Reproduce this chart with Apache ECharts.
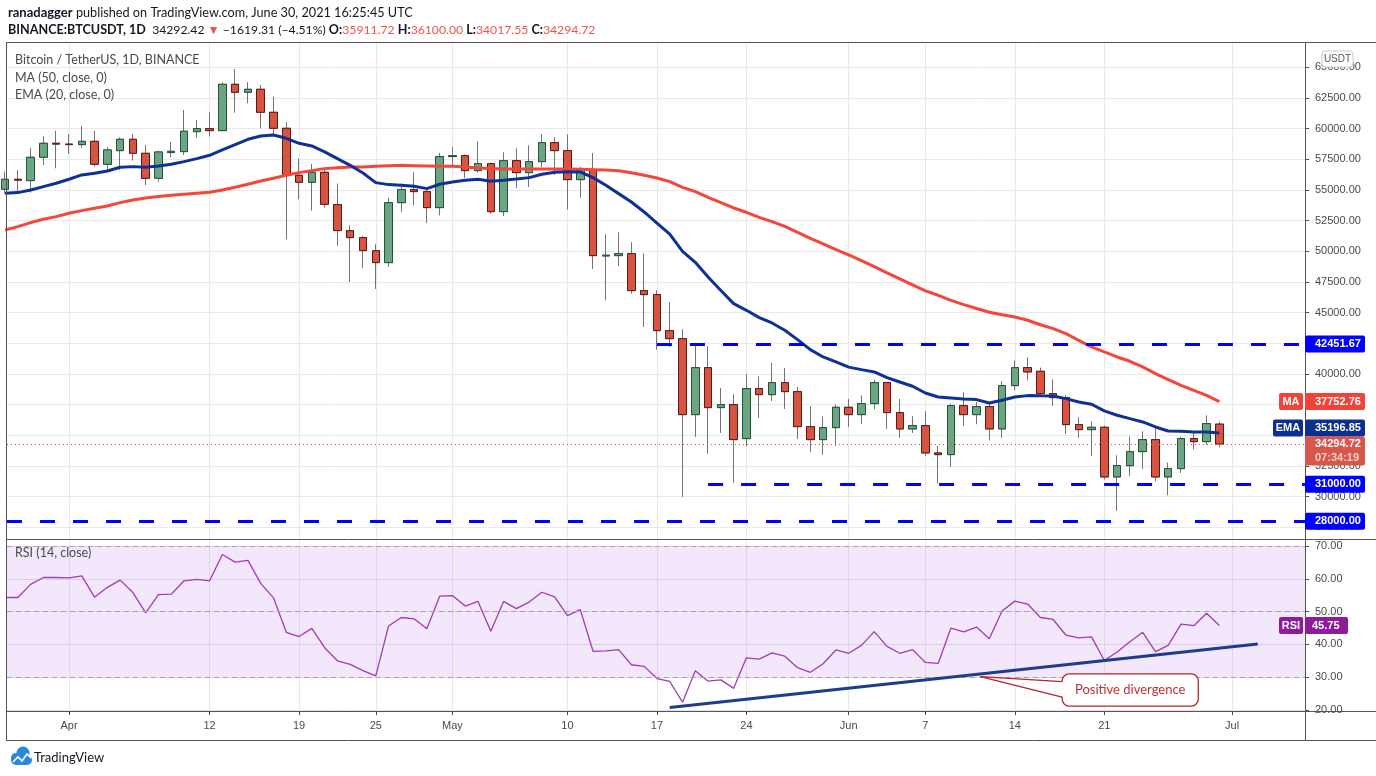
<!DOCTYPE html>
<html>
<head>
<meta charset="utf-8">
<script src="https://cdn.jsdelivr.net/npm/echarts@6/dist/echarts.min.js"></script>
<style>
  html, body { margin: 0; padding: 0; background: #fff; }
  #main { width: 1376px; height: 776px; }
</style>
</head>
<body>
<div id="main"></div>
<script>
// one candle per day, day 0 = 27 Mar 2021, last = 30 Jun 2021
const opens = [
  55056, 55871, 55762, 57664, 58805, 58740, 58696, 58968, 57094, 58207,
  59131, 57990, 55952, 58050, 58126, 59756, 60001, 59838, 63614, 62962,
  63207, 61332, 60028, 56197, 55626, 56441, 53805, 51686, 51115, 50056,
  49078, 53968, 55028, 54865, 53561, 57720, 57799, 56576, 57147, 53235,
  57392, 56413, 57310, 58859, 58207, 55843, 56658, 49620, 49648, 49811,
  46795, 46468, 43533, 42881, 36686, 40517, 37257, 37502, 34730, 38806,
  38316, 39295, 38561, 35708, 34648, 35627, 37285, 36686, 37583, 39295,
  36849, 35518, 35790, 33562, 33426, 37420, 36686, 37338, 35518, 39050,
  40517, 40218, 38398, 38072, 35871, 35464, 35654, 31605, 32529, 33670,
  34648, 31605, 32285, 34730, 34485, 35911.72
];
const closes = [
  55871, 55800, 57664, 58805, 58740, 58700, 58968, 57094, 58262, 59131,
  57990, 55952, 58099, 58150, 59783, 60001, 59838, 63614, 62962, 63207,
  61332, 60028, 56197, 55626, 56441, 53833, 51686, 51115, 50056, 49078,
  53968, 55028, 54865, 53561, 57718, 57800, 56576, 57147, 53235, 57392,
  56413, 57310, 58859, 58207, 55843, 56658, 49648, 49680, 49811, 46795,
  46469, 43533, 42881, 36686, 40517, 37257, 37502, 34648, 38806, 38316,
  39295, 38561, 35708, 34648, 35627, 37285, 36686, 37583, 39295, 36849,
  35518, 35790, 33562, 33426, 37420, 36686, 37338, 35518, 39050, 40517,
  40164, 38398, 38072, 35871, 35464, 35654, 31605, 32529, 33670, 34648,
  31605, 32285, 34730, 34485, 35953, 34294.72
];
const highs = [
  56500, 56632, 58425, 59403, 59811, 59566, 60218, 59811, 58479, 59294,
  59566, 58669, 58208, 58914, 61522, 60707, 61332, 63777, 64864, 63805,
  63560, 62609, 60544, 57583, 57121, 56767, 55517, 52120, 51225, 50572,
  54376, 55517, 56441, 55191, 58017, 58506, 57908, 58968, 57229, 58071,
  58397, 58642, 59538, 59294, 59538, 56876, 58017, 51387, 51550, 50735,
  49838, 46821, 45843, 43642, 42528, 42256, 38860, 38344, 39974, 39811,
  40898, 40490, 38942, 37366, 36550, 37529, 37964, 38262, 39540, 39350,
  37964, 36550, 36958, 34132, 37583, 38507, 37719, 37529, 39403, 41115,
  41359, 40517, 39567, 38262, 36469, 36143, 35790, 33372, 34920, 35328,
  35545, 32774, 34866, 35328, 36632, 36100
];
const lows = [
  54700, 54728, 54784, 57040, 56767, 57936, 58452, 56903, 56496, 56631,
  57392, 55409, 55681, 57664, 57854, 59267, 59349, 59800, 61305, 62066,
  60028, 59566, 50980, 54241, 53317, 53562, 50436, 47502, 48643, 46931,
  48724, 53208, 53751, 52311, 52936, 57011, 55979, 56413, 53072, 52881,
  55164, 55245, 56876, 56223, 53398, 54349, 48561, 46008, 48805, 46550,
  43832, 41984, 42202, 29975, 34866, 33480, 35192, 31117, 34105, 36415,
  37800, 37148, 34703, 33643, 33426, 34133, 35681, 35899, 37121, 35518,
  34784, 35192, 33317, 31062, 32421, 35763, 35899, 34594, 34784, 38670,
  39485, 38126, 37393, 35111, 34784, 33317, 31400, 28835, 31687, 32258,
  31252, 30111, 31931, 33860, 34214, 34017.55
];
const ma50 = [
  51741, 52013, 52339, 52610, 52828, 53100, 53317, 53507, 53697, 53969,
  54186, 54349, 54458, 54567, 54648, 54730, 54811, 55001, 55219, 55463,
  55735, 55952, 56197, 56414, 56577, 56740, 56821, 56875, 56875, 56930,
  56984, 57011, 56984, 56957, 56930, 56930, 56875, 56794, 56740, 56712,
  56712, 56712, 56712, 56712, 56712, 56685, 56658, 56631, 56560, 56400,
  56195, 55978, 55679, 55217, 54864, 54402, 53968, 53533, 53180, 52772,
  52419, 52038, 51549, 51060, 50598, 50137, 49702, 49240, 48751, 48235,
  47746, 47257, 46780, 46414, 46000, 45654, 45340, 45029, 44820, 44650,
  44380, 44010, 43696, 43289, 42745, 42202, 41794, 41387, 41034, 40572,
  40028, 39539, 39077, 38670, 38262, 37752.76
];
const ema20 = [
  54730, 54784, 55000, 55273, 55545, 55871, 56224, 56360, 56550, 56849,
  56903, 56849, 56958, 57094, 57311, 57555, 57827, 58262, 58697, 59131,
  59403, 59484, 59213, 58805, 58588, 58110, 57555, 57011, 56386, 55598,
  55436, 55381, 55300, 55109, 55463, 55653, 55789, 55870, 55707, 55789,
  55897, 56006, 56278, 56441, 56495, 56468, 56006, 55381, 54702, 54023,
  53208, 52300, 51400, 50000, 49100, 47900, 46800, 45734, 45190, 44593,
  44158, 43560, 42800, 41985, 41387, 40979, 40560, 40354, 40164, 39702,
  39349, 38996, 38452, 38126, 38045, 37964, 37909, 37638, 37855, 38126,
  38235, 38220, 38208, 37991, 37719, 37529, 36985, 36632, 36360, 36089,
  35681, 35355, 35328, 35273, 35273, 35196.85
];
const rsi14 = [
  54.3, 54.3, 58.3, 60.4, 60.4, 60.3, 60.9, 54.4, 57.4, 59.6,
  55.8, 49.6, 55.2, 55.3, 59.4, 59.8, 59.4, 67.4, 65.1, 65.6,
  58.6, 54.2, 43.7, 42.4, 44.9, 39.0, 35.0, 33.9, 32.0, 30.4,
  45.6, 48.2, 47.8, 44.8, 54.7, 54.9, 51.7, 53.1, 44.0, 53.1,
  50.9, 52.9, 55.9, 54.5, 48.8, 50.6, 37.9, 38.0, 38.4, 33.8,
  33.3, 29.6, 28.7, 22.4, 32.0, 28.8, 29.2, 26.6, 35.9, 35.5,
  37.4, 36.4, 32.9, 31.5, 34.1, 38.3, 37.3, 39.7, 43.9, 39.4,
  37.3, 38.4, 34.5, 34.2, 45.0, 43.8, 45.3, 41.7, 50.2, 53.2,
  52.3, 48.2, 47.6, 42.8, 42.0, 42.3, 35.1, 37.7, 40.8, 43.7,
  37.8, 39.7, 46.2, 45.7, 49.5, 45.75
];

const tickDays = [5, 16, 23, 29, 35, 44, 51, 58, 66, 72, 79, 86, 96];
const tickLabels = ['Apr', '12', '19', '25', 'May', '10', '17', '24', 'Jun', '7', '14', '21', 'Jul'];
const priceTicks = [27500, 30000, 32500, 35000, 37500, 40000, 42500, 45000, 47500,
  50000, 52500, 55000, 57500, 60000, 62500, 65000];
const rsiTicks = [20, 30, 40, 50, 60, 70];

// drawn levels: value and the day they start from
const levelValues = [42451.67, 31000, 28000];
const levelStarts = [51, 55, 0];
const lastPrice = 34294.72;
const lastMA = 37752.76;
const lastEMA = 35196.85;
const lastRSI = 45.75;
const rsiTrend = [[52, 20.8], [98, 40.1]];
const calloutAnchor = [76.3, 30.2];
const calloutBox = [[82.7, 31.0], [93.35, 21.2]];

// visible window of the day axis and of the price / rsi scales
const X_MIN = 0.15, X_MAX = 101.7;
const Y_MIN = 26628, Y_MAX = 66981;
const R_MIN = 19.7, R_MAX = 71.83;

const UP = '#6ba583', DOWN = '#d75442';
const UP_EDGE = '#225437', DOWN_EDGE = '#5b1a13';
const WICK = '#737375';
const GRID = '#e9e9e9';
const AXIS = '#4a4a4a';
const LEVEL = '#0000ff';
const FONT = '"Liberation Sans", Arial, sans-serif';
const TFONT = 'Lato, "Liberation Sans", sans-serif';

const candles = opens.map((o, i) => [i, o, closes[i], lows[i], highs[i]]);
const bodies = opens.map((o, i) => [i, o, closes[i], Math.min(o, closes[i]), Math.max(o, closes[i])]);

const chart = echarts.init(document.getElementById('main'), null, { renderer: 'canvas' });

const dayAxis = (grid, withLabels) => ({
  type: 'value',
  gridIndex: grid,
  min: X_MIN,
  max: X_MAX,
  axisLine: { show: withLabels, lineStyle: { color: AXIS } },
  axisTick: { show: withLabels, customValues: tickDays, length: 4, lineStyle: { color: AXIS } },
  axisLabel: {
    show: withLabels,
    customValues: tickDays,
    formatter: (v) => tickLabels[tickDays.indexOf(v)],
    color: AXIS,
    fontFamily: FONT,
    fontSize: 11,
    margin: 9,
  },
  splitLine: { show: true, lineStyle: { color: GRID, width: 1 } },
});

const levelLines = levelValues.map((v, i) => [
  { coord: [Math.max(levelStarts[i], X_MIN), v] },
  { coord: [X_MAX, v] },
]);

chart.setOption({
  animation: false,
  backgroundColor: '#ffffff',
  grid: [
    { left: 7, right: 71, top: 43, height: 495 },
    { left: 7, right: 71, top: 540, height: 171 },
  ],
  xAxis: [dayAxis(0, false), dayAxis(1, true)],
  yAxis: [
    {
      type: 'value',
      gridIndex: 0,
      position: 'right',
      min: Y_MIN,
      max: Y_MAX,
      axisLine: { show: false },
      axisTick: { show: true, customValues: priceTicks, length: 4, lineStyle: { color: AXIS } },
      axisLabel: {
        customValues: priceTicks,
        formatter: (v) => v.toFixed(2),
        color: AXIS,
        fontFamily: FONT,
        fontSize: 11,
        margin: 10,
      },
      splitLine: { show: true, lineStyle: { color: GRID } },
    },
    {
      type: 'value',
      gridIndex: 1,
      position: 'right',
      min: R_MIN,
      max: R_MAX,
      axisLine: { show: false },
      axisTick: { show: true, customValues: rsiTicks, length: 4, lineStyle: { color: AXIS } },
      axisLabel: {
        customValues: rsiTicks,
        formatter: (v) => v.toFixed(2),
        color: AXIS,
        fontFamily: FONT,
        fontSize: 11,
        margin: 10,
      },
      splitLine: { show: true, lineStyle: { color: '#e6e0ea' } },
    },
  ],
  series: [
    {
      // wicks (grey) underneath
      type: 'candlestick',
      xAxisIndex: 0,
      yAxisIndex: 0,
      barWidth: 8,
      clip: true,
      silent: true,
      data: candles,
      itemStyle: { color: UP, color0: DOWN, borderColor: WICK, borderColor0: WICK, borderWidth: 1 },
    },
    {
      // bodies with dark edges
      type: 'candlestick',
      xAxisIndex: 0,
      yAxisIndex: 0,
      barWidth: 8,
      clip: true,
      silent: true,
      data: bodies,
      itemStyle: { color: UP, color0: DOWN, borderColor: UP_EDGE, borderColor0: DOWN_EDGE, borderWidth: 1 },
    },
    {
      name: 'MA',
      type: 'line',
      xAxisIndex: 0,
      yAxisIndex: 0,
      data: ma50.map((v, i) => [i, v]),
      showSymbol: false,
      clip: true,
      silent: true,
      lineStyle: { color: '#f5463a', width: 3 },
      markLine: {
        silent: true,
        symbol: ['none', 'none'],
        label: { show: false },
        data: [
          ...levelLines.map((l) => l.map((p) => ({ ...p, lineStyle: { color: LEVEL, width: 3, type: [15, 18] } }))),
          [
            { coord: [X_MIN, lastPrice], lineStyle: { color: '#d75442', width: 1, type: [1, 3] } },
            { coord: [X_MAX, lastPrice] },
          ],
        ],
      },
    },
    {
      name: 'EMA',
      type: 'line',
      xAxisIndex: 0,
      yAxisIndex: 0,
      data: ema20.map((v, i) => [i, v]),
      showSymbol: false,
      clip: true,
      silent: true,
      lineStyle: { color: '#0c3296', width: 3 },
    },
    {
      name: 'RSI',
      type: 'line',
      xAxisIndex: 1,
      yAxisIndex: 1,
      data: rsi14.map((v, i) => [i, v]),
      showSymbol: false,
      clip: true,
      silent: true,
      lineStyle: { color: '#a23cb4', width: 1.3 },
      markArea: {
        silent: true,
        itemStyle: { color: 'rgba(150, 40, 230, 0.11)' },
        data: [[{ yAxis: 30 }, { yAxis: 70 }]],
      },
      markLine: {
        silent: true,
        symbol: ['none', 'none'],
        label: { show: false },
        data: [
          { yAxis: 70, lineStyle: { color: '#a9a2ad', width: 1, type: [5, 4] } },
          { yAxis: 50, lineStyle: { color: '#a9a2ad', width: 1, type: [5, 4] } },
          { yAxis: 30, lineStyle: { color: '#a9a2ad', width: 1, type: [5, 4] } },
          [
            { coord: rsiTrend[0], lineStyle: { color: '#1e3c8c', width: 3, type: 'solid' } },
            { coord: rsiTrend[1] },
          ],
        ],
      },
    },
  ],
});

// ---- overlay: frame, titles, price tags, callout ----
const py = (v) => chart.convertToPixel({ yAxisIndex: 0 }, v);
const ry = (v) => chart.convertToPixel({ yAxisIndex: 1 }, v);
const rp = (p) => chart.convertToPixel({ xAxisIndex: 1, yAxisIndex: 1 }, p);

const line = (x1, y1, x2, y2, color) => ({
  type: 'line', silent: true, z: 50,
  shape: { x1, y1, x2, y2 },
  style: { stroke: color, lineWidth: 1 },
});
const text = (x, y, str, opts) => ({
  type: 'text', silent: true, z: 60, x, y,
  style: Object.assign({
    text: str, fill: '#131722', fontFamily: TFONT, fontSize: 13,
    align: 'left', verticalAlign: 'middle', textAlign: 'left', textVerticalAlign: 'middle',
  }, opts || {}),
});
const box = (x, y, w, h, fill, opts) => ({
  type: 'rect', silent: true, z: 55,
  shape: Object.assign({ x, y, width: w, height: h, r: 2 }, (opts && opts.shape) || {}),
  style: Object.assign({ fill }, (opts && opts.style) || {}),
});
const tag = (yc, str, color, side) => {
  const items = [
    box(1305, yc - 8.5, 60, 17, color),
    text(1315, yc, str, { fill: '#fff', fontFamily: FONT, fontSize: 11, fontWeight: 'bold' }),
  ];
  if (side) {
    const w = side.length > 2 ? 30 : 24;
    items.push(box(1303 - w, yc - 8.5, w, 17, color));
    items.push(text(1303 - w / 2, yc, side, {
      fill: '#fff', fontFamily: FONT, fontSize: 11, fontWeight: 'bold', align: 'center', textAlign: 'center',
    }));
  }
  return items;
};

const g = [];
// frame
g.push(line(6, 42.5, 1376, 42.5, '#555'));
g.push(line(6.5, 42, 6.5, 740, '#555'));
g.push(line(6, 539.5, 1376, 539.5, '#555'));
g.push(line(6, 711.5, 1376, 711.5, '#555'));
g.push(line(6, 740.5, 1376, 740.5, '#555'));
g.push(line(1305.5, 42, 1305.5, 740, '#555'));

// header
g.push(text(8, 13, '{b|ranadagger} published on TradingView.com, June 30, 2021 16:25:45 UTC', {
  fontSize: 12.7,
  rich: { b: { fontWeight: 'bold', fontFamily: TFONT, fontSize: 13 } },
}));
g.push(text(8, 30, '{b|BINANCE:BTCUSDT, 1D}  34292.42 {r|▼} −1619.31 (−4.51%) {b|O:}{r|35911.72} {b|H:}{r|36100.00} {b|L:}{r|34017.55} {b|C:}{r|34294.72}', {
  fontSize: 12.2,
  rich: {
    b: { fontWeight: 'bold', fontFamily: TFONT, fontSize: 12.6 },
    r: { fill: '#ef5350', fontFamily: TFONT, fontSize: 12.2 },
  },
}));

// pane legends
const legend = { fill: '#4a4a4a', fontSize: 12.5 };
g.push(text(15, 60, 'Bitcoin / TetherUS, 1D, BINANCE', legend));
g.push(text(15, 78, 'MA (50, close, 0)', legend));
g.push(text(15, 95, 'EMA (20, close, 0)', legend));
g.push(text(15, 553, 'RSI (14, close)', legend));

// currency badge
g.push(box(1322, 51, 31, 16, '#fff', { shape: { r: 3 }, style: { stroke: '#c9c9c9', lineWidth: 1 } }));
g.push(text(1337.5, 59, 'USDT', { fill: '#555', fontFamily: FONT, fontSize: 10, align: 'center', textAlign: 'center' }));

// right axis tags (the EMA tag is pushed up so it sits on top of the price tag)
const lp = py(lastPrice);
levelValues.forEach((v) => g.push(...tag(py(v), v.toFixed(2), LEVEL)));
g.push(...tag(py(lastMA), lastMA.toFixed(2), '#f0433a', 'MA'));
g.push(...tag(Math.min(py(lastEMA), lp - 16), lastEMA.toFixed(2), '#0d2f8f', 'EMA'));
g.push(box(1305, lp - 7.5, 60, 29, '#d9574a'));
g.push(text(1315, lp, lastPrice.toFixed(2), { fill: '#fff', fontFamily: FONT, fontSize: 11, fontWeight: 'bold' }));
g.push(text(1315, lp + 14, '07:34:19', { fill: '#f7cfc9', fontFamily: FONT, fontSize: 11, fontWeight: 'bold' }));
const rsiY = ry(lastRSI);
g.push(box(1305, rsiY - 8.5, 43, 17, '#8e1b99'));
g.push(text(1312, rsiY, lastRSI.toFixed(2), { fill: '#fff', fontFamily: FONT, fontSize: 11, fontWeight: 'bold' }));
g.push(box(1279, rsiY - 8.5, 24, 17, '#8e1b99'));
g.push(text(1291, rsiY, 'RSI', { fill: '#fff', fontFamily: FONT, fontSize: 11, fontWeight: 'bold', align: 'center', textAlign: 'center' }));

// callout
const a = rp(calloutAnchor);
const b0 = rp(calloutBox[0]);
const b1 = rp(calloutBox[1]);
const bx = b0[0], by = b0[1], bw = b1[0] - b0[0], bh = b1[1] - b0[1];
const w1 = by + bh * 0.24, w2 = by + bh * 0.72;
const CALL = '#b3262b';
g.push(box(bx, by, bw, bh, '#fff', { shape: { r: 7 }, style: { stroke: CALL, lineWidth: 1.3 } }));
g.push({ type: 'polygon', silent: true, z: 56, shape: { points: [a, [bx + 2, w1], [bx + 2, w2]] }, style: { fill: '#fff' } });
g.push({ type: 'polyline', silent: true, z: 57, shape: { points: [[bx, w1], a, [bx, w2]] }, style: { stroke: CALL, lineWidth: 1.3, fill: null } });
g.push(text(bx + bw / 2, by + bh / 2, 'Positive divergence', {
  fill: '#c0302f', fontSize: 13, align: 'center', textAlign: 'center',
}));

// TradingView logo
g.push({
  type: 'group', silent: true, z: 60,
  children: [
    { type: 'circle', shape: { cx: 23, cy: 753, r: 6.5 }, style: { fill: '#2a87e0' } },
    { type: 'circle', shape: { cx: 16, cy: 758, r: 5 }, style: { fill: '#2a87e0' } },
    { type: 'rect', shape: { x: 11, y: 755, width: 21, height: 10, r: 5 }, style: { fill: '#2a87e0' } },
    { type: 'polyline', shape: { points: [[13, 762], [18, 757], [22, 761], [27, 754], [31, 758]] }, style: { stroke: '#fff', lineWidth: 1.6, fill: null } },
  ],
});
g.push(text(34, 758, 'TradingView', { fill: '#131722', fontSize: 13 }));

chart.setOption({ graphic: g });
</script>
</body>
</html>
